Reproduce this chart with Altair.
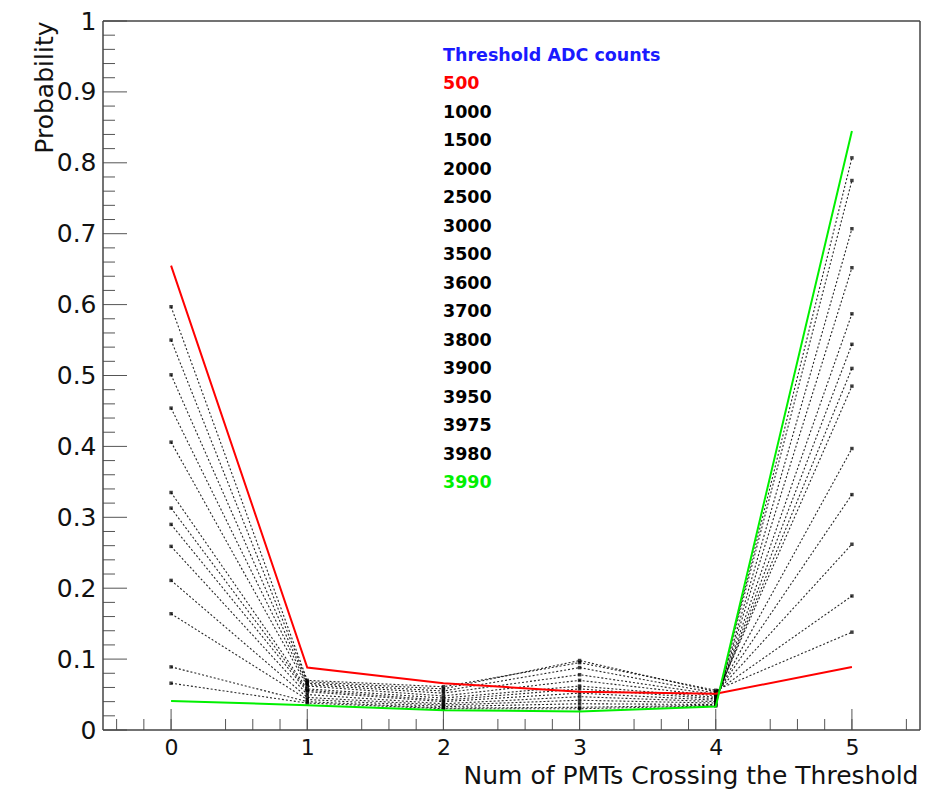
import altair as alt
import pandas as pd

# Number of PMTs (out of 5) that cross the threshold
N_PMTS = [0, 1, 2, 3, 4, 5]

# ADC thresholds, one curve each
THRESHOLDS = [500, 1000, 1500, 2000, 2500, 3000, 3500, 3600,
              3700, 3800, 3900, 3950, 3975, 3980, 3990]

# Probability of n PMTs crossing, per threshold
PROB = {
    500:  [0.655, 0.088, 0.066, 0.054, 0.051, 0.089],
    1000: [0.597, 0.070, 0.061, 0.095, 0.056, 0.138],
    1500: [0.550, 0.068, 0.058, 0.098, 0.054, 0.189],
    2000: [0.501, 0.066, 0.055, 0.088, 0.052, 0.262],
    2500: [0.454, 0.064, 0.052, 0.078, 0.050, 0.332],
    3000: [0.406, 0.062, 0.048, 0.070, 0.048, 0.397],
    3500: [0.335, 0.058, 0.045, 0.062, 0.046, 0.485],
    3600: [0.313, 0.056, 0.042, 0.058, 0.044, 0.510],
    3700: [0.290, 0.054, 0.040, 0.052, 0.042, 0.544],
    3800: [0.259, 0.050, 0.037, 0.047, 0.040, 0.587],
    3900: [0.211, 0.046, 0.035, 0.042, 0.038, 0.652],
    3950: [0.164, 0.043, 0.033, 0.037, 0.036, 0.707],
    3975: [0.089, 0.040, 0.031, 0.032, 0.035, 0.775],
    3980: [0.066, 0.038, 0.030, 0.030, 0.034, 0.807],
    3990: [0.041, 0.035, 0.028, 0.026, 0.033, 0.845],
}

LEGEND_TITLE = "Threshold ADC counts"
FIRST_THR, LAST_THR = THRESHOLDS[0], THRESHOLDS[-1]

# Axis tick positions (major / minor), ROOT-like divisions
Y_MAJOR = [round(0.1 * i, 1) for i in range(11)]
Y_MINOR = [round(0.02 * i, 2) for i in range(51) if i % 5 != 0]
X_MAJOR = N_PMTS
X_MINOR = [round(-0.4 + 0.2 * i, 1) for i in range(30) if (i + 2) % 5 != 0]

RED, GREEN, BLUE, BLACK = "#ff0000", "#00f000", "#1a1aff", "#000000"
FONT = "DejaVu Sans"
W, H = 817, 709

rows = []
for thr in THRESHOLDS:
    for n, p in zip(N_PMTS, PROB[thr]):
        rows.append({"x": n, "y": p, "thr": thr})
df = pd.DataFrame(rows)

legend_labels = [LEGEND_TITLE] + [str(t) for t in THRESHOLDS]
legend_colors = [BLUE] + [RED if t == FIRST_THR else GREEN if t == LAST_THR else BLACK
                          for t in THRESHOLDS]
legend_df = pd.DataFrame({"row": list(range(len(legend_labels))),
                          "label": legend_labels, "col": legend_colors})

XS = alt.Scale(domain=[-0.5, 5.5], nice=False, zero=False)
YS = alt.Scale(domain=[0, 1], nice=False, zero=False)

x_axis = alt.Axis(
    values=X_MAJOR, format="d", ticks=False, domain=False, grid=False,
    labelFont=FONT, labelFontSize=22, labelColor="#111", labelPadding=7,
    title="Num of PMTs Crossing the Threshold", titleFont=FONT, titleFontSize=25,
    titleFontWeight="normal", titleColor="#111", titleAlign="right",
    titleBaseline="alphabetic", titleX=W - 2, titleY=53,
)
y_axis = alt.Axis(
    values=Y_MAJOR, format="~g", ticks=False, domain=False, grid=False,
    labelFont=FONT, labelFontSize=25, labelColor="#111", labelPadding=7,
    title="Probability", titleFont=FONT, titleFontSize=25, titleFontWeight="normal",
    titleColor="#111", titleAngle=270, titleAlign="right", titleBaseline="middle",
    titleX=-59, titleY=0,
)

X = alt.X("x:Q", scale=XS, axis=x_axis)
Y = alt.Y("y:Q", scale=YS, axis=y_axis)

base = alt.Chart(df)
is_mid = f"datum.thr != {FIRST_THR} && datum.thr != {LAST_THR}"

black_lines = base.transform_filter(is_mid).mark_line(
    color=BLACK, strokeDash=[2, 2], strokeWidth=1.1, opacity=0.85
).encode(x=X, y=Y, detail="thr:N")
black_pts = base.transform_filter(is_mid).mark_point(
    shape="square", filled=True, size=12, color=BLACK, opacity=0.75
).encode(x=X, y=Y)

red_line = base.transform_filter(f"datum.thr == {FIRST_THR}").mark_line(
    color=RED, strokeWidth=2
).encode(x=X, y=Y)
green_line = base.transform_filter(f"datum.thr == {LAST_THR}").mark_line(
    color=GREEN, strokeWidth=2
).encode(x=X, y=Y)

TICK = "#555555"
y_major = alt.Chart(pd.DataFrame({"y": Y_MAJOR})).mark_rule(color=TICK, strokeWidth=1).encode(
    y=Y, x=alt.value(0), x2=alt.value(24))
y_minor = alt.Chart(pd.DataFrame({"y": Y_MINOR})).mark_rule(color=TICK, strokeWidth=1).encode(
    y=Y, x=alt.value(0), x2=alt.value(12))
x_major = alt.Chart(pd.DataFrame({"x": X_MAJOR})).mark_rule(color=TICK, strokeWidth=1).encode(
    x=X, y=alt.value(H), y2=alt.value(H - 21))
x_minor = alt.Chart(pd.DataFrame({"x": X_MINOR})).mark_rule(color=TICK, strokeWidth=1).encode(
    x=X, y=alt.value(H), y2=alt.value(H - 11))

FRAME = "#444444"
frame_bottom = alt.Chart().mark_rule(color=FRAME, strokeWidth=1.5).encode(
    x=alt.value(0), x2=alt.value(W), y=alt.value(H))
frame_top = alt.Chart().mark_rule(color=FRAME, strokeWidth=1.5).encode(
    x=alt.value(0), x2=alt.value(W), y=alt.value(0))
frame_left = alt.Chart().mark_rule(color=FRAME, strokeWidth=1.5).encode(
    x=alt.value(0), y=alt.value(0), y2=alt.value(H))
frame_right = alt.Chart().mark_rule(color=FRAME, strokeWidth=1.5).encode(
    x=alt.value(W), y=alt.value(0), y2=alt.value(H))

plot = alt.layer(
    y_minor, y_major, x_minor, x_major,
    black_lines, black_pts, red_line, green_line,
    frame_bottom, frame_top, frame_left, frame_right,
)

legend = alt.Chart(legend_df).mark_text(
    font=FONT, fontSize=17.5, fontWeight="bold", align="left", baseline="middle"
).encode(
    x=alt.value(340),
    y=alt.Y("row:O", axis=None, scale=alt.Scale(type="point", padding=0, range=[35, 462])),
    text="label:N",
    color=alt.Color("col:N", scale=None),
)

chart = alt.layer(plot, legend).resolve_scale(y="independent").properties(
    width=W, height=H,
    autosize=alt.AutoSizeParams(type="none"),
    padding={"left": 103, "top": 21, "right": 26, "bottom": 59},
    background="white",
).configure_view(stroke=None)

chart.save("out.html", embed_options={"renderer": "svg", "actions": False})
